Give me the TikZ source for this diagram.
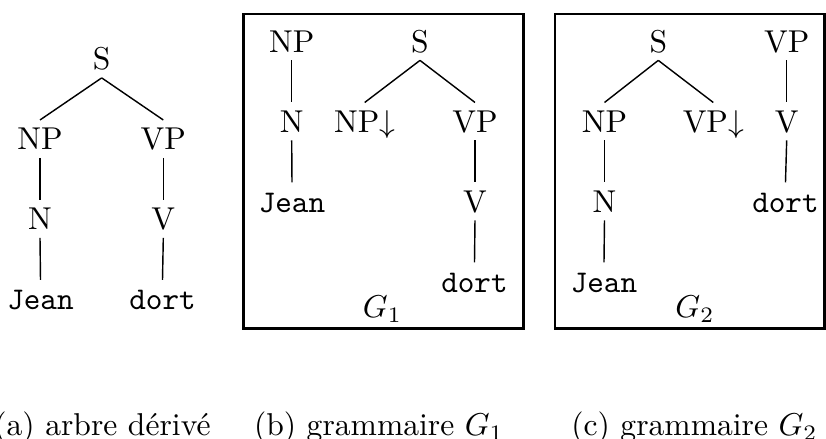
\documentclass[tikz,border=0pt]{standalone}
\usepackage{fontspec}
\begin{document}
\begin{tikzpicture}[x=0.31646pt,y=-0.31646pt,
  tn/.style={anchor=base,inner xsep=0pt,inner ysep=2.3pt,text height=7pt,text depth=0pt},
  edgeline/.style={line width=0.45pt},
  framebox/.style={line width=0.8pt},
  captxt/.style={anchor=base,inner sep=0pt}]
\useasboundingbox (0,0) rectangle (826,439);
% (a) derived tree
\node[tn] (aS) at (101.7,70) {S};
\node[tn] (aNP) at (40,150) {NP};
\node[tn] (aVP) at (163.3,150) {VP};
\node[tn] (aN) at (40,230) {N};
\node[tn] (aV) at (163.3,230) {V};
\node[tn] (aJ) at (40.5,310) {\texttt{Jean}};
\node[tn] (aD) at (162.5,310) {\texttt{dort}};
\draw[edgeline] (aS.south) -- (aNP.north);
\draw[edgeline] (aS.south) -- (aVP.north);
\draw[edgeline] (aNP.south) -- (aN.north);
\draw[edgeline] (aN.south) -- (aJ.north);
\draw[edgeline] (aVP.south) -- (aV.north);
\draw[edgeline] (aV.south) -- (aD.north);
% (b) grammar G1
\draw[framebox] (243.3,14) rectangle (523.3,328.3);
\node[tn] (bNP) at (291.7,52.5) {NP};
\node[tn] (bN) at (291.7,132.5) {N};
\node[tn] (bJ) at (292,212.5) {\texttt{Jean}};
\node[tn] (bS) at (420,52.5) {S};
\node[tn] (bNPs) at (364.7,132.5) {NP$\downarrow$};
\node[tn] (bVP) at (475,132.5) {VP};
\node[tn] (bV) at (475,212.5) {V};
\node[tn] (bD) at (474.5,292.5) {\texttt{dort}};
\draw[edgeline] (bNP.south) -- (bN.north);
\draw[edgeline] (bN.south) -- (bJ.north);
\draw[edgeline] (bS.south) -- (bNPs.north);
\draw[edgeline] (bS.south) -- (bVP.north);
\draw[edgeline] (bVP.south) -- (bV.north);
\draw[edgeline] (bV.south) -- (bD.north);
\node[captxt] (bG) at (382.5,318) {$G_1$};
% (c) grammar G2
\draw[framebox] (555,14) rectangle (824.5,328.3);
\node[tn] (cS) at (658.3,52.5) {S};
\node[tn] (cNP) at (604.5,132.5) {NP};
\node[tn] (cVPs) at (713.3,132.5) {VP$\downarrow$};
\node[tn] (cN) at (604.5,212.5) {N};
\node[tn] (cJ) at (604,292.5) {\texttt{Jean}};
\node[tn] (cVP) at (786.7,52.5) {VP};
\node[tn] (cV) at (786.7,132.5) {V};
\node[tn] (cD) at (785.5,212.5) {\texttt{dort}};
\draw[edgeline] (cS.south) -- (cNP.north);
\draw[edgeline] (cS.south) -- (cVPs.north);
\draw[edgeline] (cNP.south) -- (cN.north);
\draw[edgeline] (cN.south) -- (cJ.north);
\draw[edgeline] (cVP.south) -- (cV.north);
\draw[edgeline] (cV.south) -- (cD.north);
\node[captxt] (cG) at (695,318) {$G_2$};
% captions
\node[captxt] (capa) at (102.5,436) {(a) arbre dérivé};
\node[captxt] (capb) at (379,436) {(b) grammaire $G_1$};
\node[captxt] (capc) at (694.5,436) {(c) grammaire $G_2$};
\end{tikzpicture}
\end{document}
